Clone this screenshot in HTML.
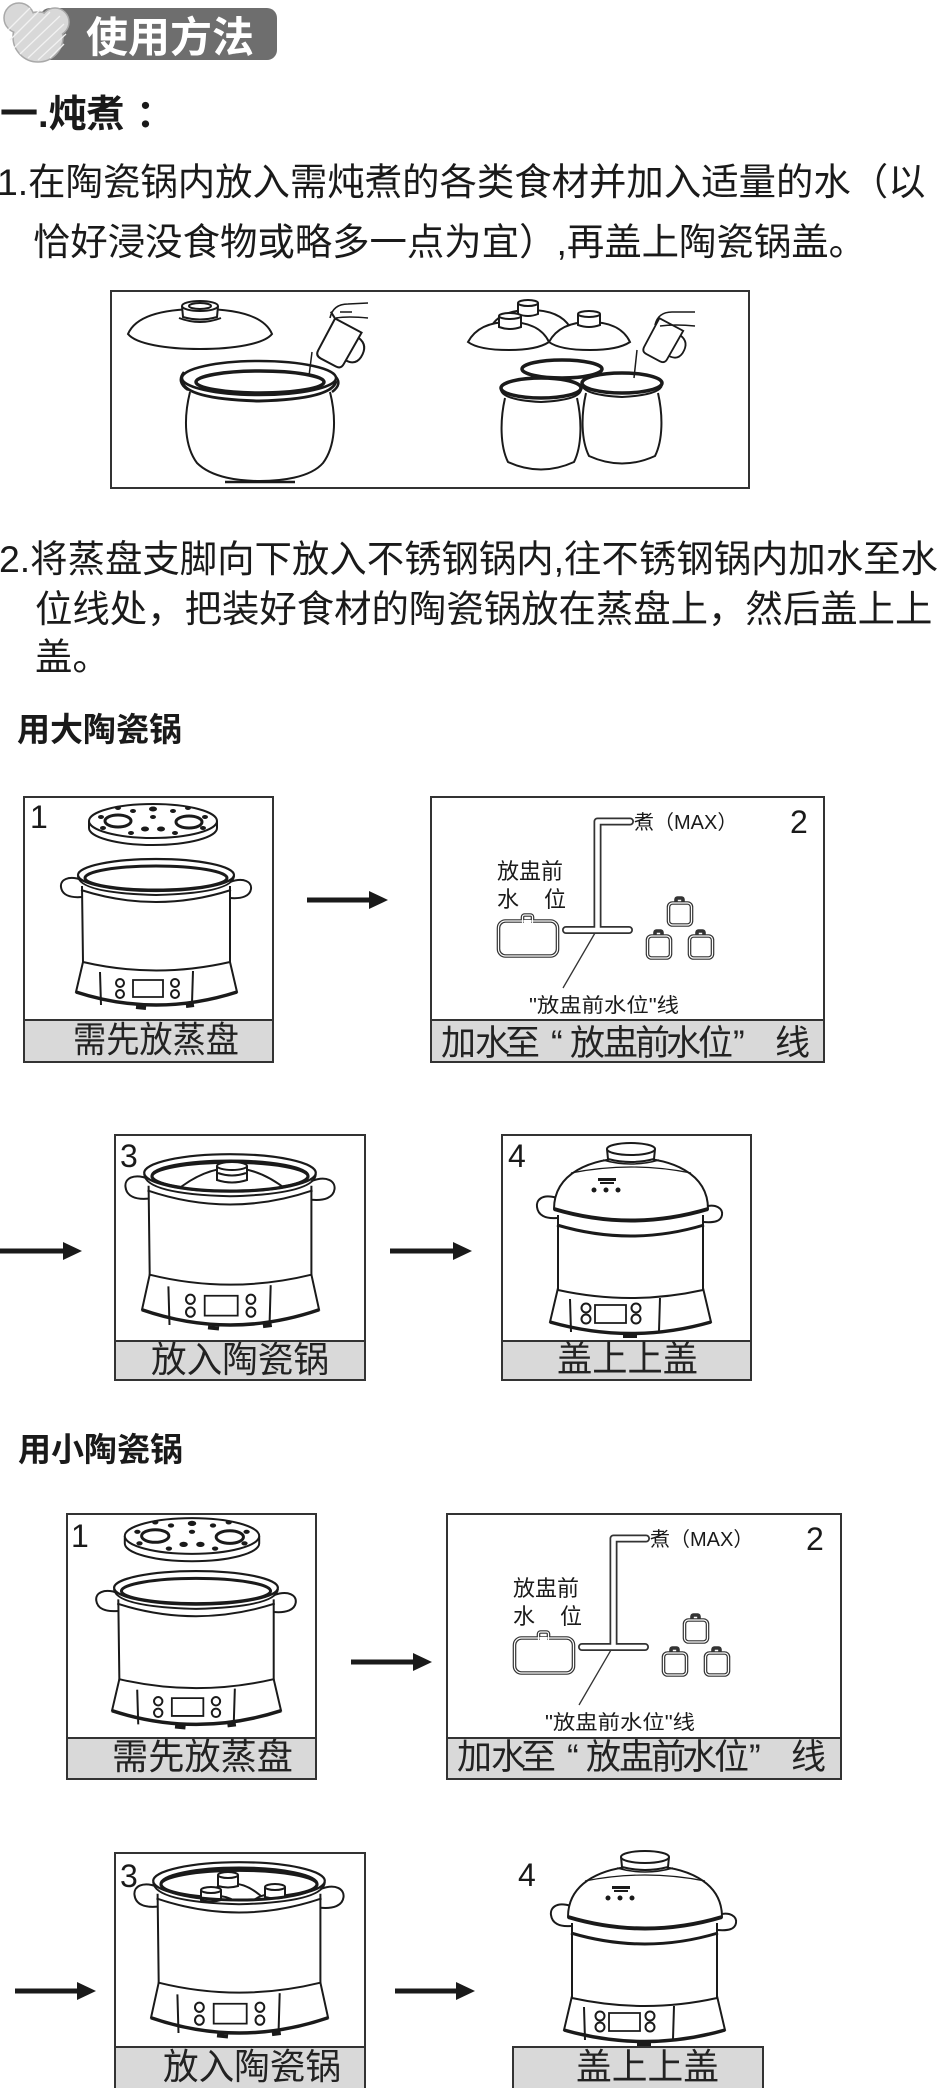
<!DOCTYPE html>
<html><head><meta charset="utf-8">
<style>
html,body{margin:0;padding:0;background:#fff;}
svg{display:block;}
.t{font-family:"Liberation Sans","Noto Sans CJK SC",sans-serif;fill:#1a1a1a;}
.b{font-weight:700;}
.c{font-family:"Liberation Sans","Noto Sans CJK SC",sans-serif;fill:#222;}
.ns *{vector-effect:non-scaling-stroke;}
</style></head>
<body>
<svg width="941" height="2088" viewBox="0 0 941 2088" xmlns="http://www.w3.org/2000/svg">
<defs>
 <g id="openpot" class="ns" fill="none" stroke="#1a1a1a" stroke-width="2">
  <path d="M-74 22 C-88 17 -96 22 -95 29 C-94 37 -86 40 -74 39" fill="#fff"/>
  <path d="M74 24 C88 19 96 24 95 31 C94 38 86 41 74 40" fill="#fff"/>
  <path d="M-73 104 L-80 134 Q0 160 81 134 L74 104 Z" fill="#fff"/>
  <path d="M-80 134 Q0 160 81 134" stroke-width="3.5"/>
  <path d="M-20 149 L-10 150 M30 148 L38 147" stroke-width="4"/>
  <path d="M-74 28 L-73 104 Q0 121 74 104 L74 28" fill="#fff"/>
  <path d="M-56 114 L-55 147 M37 113 L36 145"/>
  <rect x="-23" y="122" width="30" height="17" stroke-width="1.8"/>
  <circle cx="-36" cy="125" r="4"/><circle cx="-36" cy="136" r="4"/>
  <circle cx="19" cy="125" r="4"/><circle cx="19" cy="136" r="4"/>
  <path d="M-75 32 Q0 56 75 32" stroke-width="2"/>
  <ellipse cx="0" cy="17" rx="78" ry="16" fill="#fff" stroke-width="2.2"/>
  <ellipse cx="0" cy="20" rx="71" ry="12" stroke-width="3"/>
  <path d="M-78 18 Q-77 35 0 37 Q77 35 78 18" stroke-width="2"/>
 </g>
 <g id="plate" class="ns" fill="none" stroke="#1a1a1a" stroke-width="2">
  <path d="M-64 0 L-64 7 A64 17 0 0 0 64 7 L64 0" fill="#fff"/>
  <ellipse rx="64" ry="17" fill="#fff"/>
  <ellipse cx="-35" cy="0" rx="13" ry="6" stroke-width="3"/>
  <ellipse cx="36" cy="1" rx="13" ry="6" stroke-width="3"/>
  <g fill="#1a1a1a" stroke="none">
   <ellipse cx="0" cy="-12" rx="4" ry="2.5"/><ellipse cx="0" cy="-4" rx="3" ry="2"/>
   <ellipse cx="-8" cy="8" rx="4" ry="2.5"/><ellipse cx="8" cy="8" rx="4" ry="2.5"/>
   <ellipse cx="-20" cy="-10" rx="3" ry="2"/><ellipse cx="20" cy="-10" rx="3" ry="2"/>
   <ellipse cx="-52" cy="-4" rx="3" ry="2"/><ellipse cx="52" cy="-4" rx="3" ry="2"/>
   <ellipse cx="-50" cy="7" rx="3" ry="2"/><ellipse cx="50" cy="7" rx="3" ry="2"/>
   <ellipse cx="-22" cy="12" rx="3" ry="2"/><ellipse cx="22" cy="12" rx="3" ry="2"/>
   <ellipse cx="-35" cy="-13" rx="3" ry="2"/><ellipse cx="35" cy="-13" rx="3" ry="2"/>
  </g>
 </g>
 <g id="covpot" class="ns" fill="none" stroke="#1a1a1a" stroke-width="2">
  <path d="M-74 55 C-90 50 -95 58 -94 64 C-93 72 -86 76 -74 75" fill="#fff"/>
  <path d="M72 64 C86 60 92 66 91 72 C90 78 84 80 72 79" fill="#fff"/>
  <path d="M-73 145 L-81 179 Q0 202 80 179 L72 145 Z" fill="#fff"/>
  <path d="M-81 179 Q0 202 80 179" stroke-width="3.5"/>
  <path d="M-8 193 L6 193" stroke-width="4"/>
  <path d="M-73 72 L-73 147 Q0 163 72 147 L72 72" fill="#fff"/>
  <path d="M-61 156 L-60 189 M29 155 L28 188"/>
  <rect x="-36" y="162" width="31" height="18" stroke-width="1.8"/>
  <circle cx="-45" cy="165" r="4.5"/><circle cx="-45" cy="176" r="4.5"/>
  <circle cx="5" cy="165" r="4.5"/><circle cx="5" cy="176" r="4.5"/>
  <path d="M-74 82 Q0 104 73 82" stroke-width="3"/>
  <path d="M-77 66 C-77 30 -40 15 0 15 C40 15 77 30 77 66 Q0 88 -77 66 Z" fill="#fff"/>
  <path d="M-77 66 Q0 89 77 66" stroke-width="4"/>
  <path d="M-60 30 Q0 18 60 30" stroke-width="1.2"/>
  <path d="M-24 6 L-23 16 Q0 22 23 16 L24 6" fill="#fff"/>
  <ellipse cx="0" cy="6" rx="24" ry="6" fill="#fff"/>
  <path d="M-28 17 Q0 25 28 17" stroke-width="1.5"/>
  <g fill="#1a1a1a" stroke="none">
   <rect x="-33" y="35" width="18" height="3"/><rect x="-31" y="39" width="14" height="2"/>
   <circle cx="-37" cy="47" r="2.5"/><circle cx="-25" cy="47" r="2.5"/><circle cx="-13" cy="47" r="2.5"/>
  </g>
 </g>
 <clipPath id="clipB3"><ellipse cx="230" cy="1176" rx="78" ry="15"/></clipPath>
 <clipPath id="clipS3"><ellipse cx="239" cy="1884" rx="78" ry="16"/></clipPath>
</defs>

<!-- ===== Header ===== -->
<rect x="40" y="8" width="237" height="52" rx="10" fill="#6e6e6e"/>
<g stroke="#a9a9a9" stroke-width="1.5" fill="#d8d8d8">
 <circle cx="38" cy="37" r="25"/><circle cx="19" cy="18" r="15"/><circle cx="55" cy="22" r="14"/>
</g>
<g fill="#d8d8d8"><circle cx="38" cy="37" r="24"/><circle cx="19" cy="18" r="14"/><circle cx="55" cy="22" r="13"/></g>
<g stroke="#f2f2f2" stroke-width="1.3">
 <path d="M8 30 L30 8 M10 40 L40 10 M14 48 L50 12 M20 54 L60 16 M28 58 L64 24 M38 60 L66 34 M50 58 L64 44"/>
</g>
<text class="t b" x="86" y="52" font-size="42" style="fill:#fff" textLength="168" lengthAdjust="spacingAndGlyphs">使用方法</text>

<!-- ===== Section 1 ===== -->
<text class="t b" x="0" y="127" font-size="38">一.炖煮<tspan x="136">：</tspan></text>
<text class="t" x="-3" y="195" font-size="37.4">1.在陶瓷锅内放入需炖煮的各类食材并加入适量的水（以</text>
<text class="t" x="33" y="255" font-size="37.4">恰好浸没食物或略多一点为宜）,再盖上陶瓷锅盖。</text>

<!-- illustration 1 -->
<rect x="111" y="291" width="638" height="197" fill="#fff" stroke="#333" stroke-width="2"/>
<g fill="none" stroke="#1a1a1a" stroke-width="2">
 <path d="M128 334 C136 315 166 309 200 309 C234 309 264 315 272 334 C264 344 234 349 200 349 C166 349 136 344 128 334 Z" fill="#fff"/>
 <path d="M182 306 L183 317 Q200 322 217 317 L218 306" fill="#fff"/>
 <ellipse cx="200" cy="306" rx="18" ry="5" fill="#fff"/>
 <ellipse cx="200" cy="306" rx="11" ry="3"/>
 <path d="M179 318 Q200 326 221 318"/>
 <path d="M190 392 C183 420 185 447 197 463 C212 478 240 481 260 481 C280 481 310 478 323 463 C335 447 337 420 330 392" fill="#fff"/>
 <path d="M225 482 L295 482" stroke-width="2.5"/>
 <path d="M184 372 Q176 382 188 390 M335 376 Q343 384 332 392" stroke-width="2.5"/>
 <ellipse cx="259" cy="378" rx="77" ry="17" fill="#fff" stroke-width="2.5"/>
 <path d="M182 381 Q185 399 259 401 Q333 399 336 381" stroke-width="3"/>
 <ellipse cx="260" cy="382" rx="64" ry="11" stroke-width="3.5"/>
 <path d="M312 352 L309 376" stroke-width="1.5"/>
 <g transform="translate(338,345) rotate(28)">
  <path d="M-15 -22 L15 -22 L14 14 Q14 20 8 20 L-9 20 Q-15 20 -15 14 Z" fill="#fff"/>
  <path d="M15 -16 Q27 -14 26 0 Q25 10 14 10"/>
  <path d="M-15 -22 L-22 -26"/>
 </g>
 <path d="M330 318 Q333 304 348 304 L368 303 M336 318 Q348 316 368 318 M340 312 L352 312" stroke-width="1.6"/>
 <!-- right group -->
 <path d="M491 327 C498 314 514 310 530 310 C546 310 562 314 570 327" fill="#fff"/>
 <path d="M518 303 L518 314 Q528 318 538 314 L538 303" fill="#fff"/><ellipse cx="528" cy="303" rx="10" ry="3" fill="#fff"/>
 <path d="M468 342 C476 327 492 322 509 322 C526 322 542 327 549 342 C540 348 525 350 509 350 C493 350 476 348 468 342 Z" fill="#fff"/>
 <path d="M549 342 C557 327 573 322 590 322 C607 322 623 327 630 342 C621 348 606 350 590 350 C574 350 557 348 549 342 Z" fill="#fff"/>
 <path d="M499 316 L499 327 Q510 331 521 327 L521 316" fill="#fff"/><ellipse cx="510" cy="316" rx="11" ry="3" fill="#fff"/>
 <path d="M578 314 L578 325 Q589 329 600 325 L600 314" fill="#fff"/><ellipse cx="589" cy="314" rx="11" ry="3" fill="#fff"/>
 <ellipse cx="562" cy="369" rx="40" ry="9" fill="#fff" stroke-width="3.5"/>
 <path d="M505 398 C500 420 500 446 508 462 Q541 477 574 462 C582 446 582 420 577 398" fill="#fff"/>
 <ellipse cx="541" cy="388" rx="40" ry="10" fill="#fff" stroke-width="3.5"/>
 <path d="M501 390 Q503 400 541 402 Q579 400 581 390" stroke-width="2"/>
 <path d="M586 393 C581 415 581 440 589 456 Q622 471 655 456 C663 440 663 415 658 393" fill="#fff"/>
 <ellipse cx="622" cy="383" rx="40" ry="10" fill="#fff" stroke-width="3.5"/>
 <path d="M582 385 Q584 395 622 397 Q660 395 662 385" stroke-width="2"/>
 <path d="M637 350 L634 378" stroke-width="1.5"/>
 <g transform="translate(662,342) rotate(28) scale(0.9)">
  <path d="M-15 -22 L15 -22 L14 14 Q14 20 8 20 L-9 20 Q-15 20 -15 14 Z" fill="#fff"/>
  <path d="M15 -16 Q27 -14 26 0 Q25 10 14 10"/>
 </g>
 <path d="M655 325 Q658 312 672 312 L695 312 M660 326 Q675 324 695 326" stroke-width="1.6"/>
</g>

<!-- ===== Section 2 text ===== -->
<text class="t" x="-1" y="572" font-size="37.4">2.将蒸盘支脚向下放入不锈钢锅内,往不锈钢锅内加水至水</text>
<text class="t" x="35" y="622" font-size="37.4">位线处，把装好食材的陶瓷锅放在蒸盘上，然后盖上上</text>
<text class="t" x="35" y="670" font-size="37.4">盖。</text>

<text class="t b" x="17" y="741" font-size="33">用大陶瓷锅</text>

<!-- ===== Big row 1 ===== -->
<rect x="24" y="797" width="249" height="265" fill="#fff" stroke="#333" stroke-width="2"/>
<use href="#openpot" transform="translate(156,858)"/>
<use href="#plate" transform="translate(153,821)"/>
<rect x="24" y="1020" width="249" height="42" fill="#d9d9d9" stroke="#333" stroke-width="2"/>
<text class="t" x="30" y="828" font-size="32">1</text>
<text class="c" x="73" y="1052" font-size="36" textLength="166" lengthAdjust="spacingAndGlyphs">需先放蒸盘</text>

<g fill="#1a1a1a"><rect x="307" y="897.5" width="64" height="5"/><polygon points="369,891 388,900 369,909"/></g>

<g>
<rect x="431" y="797" width="393" height="265" fill="#fff" stroke="#333" stroke-width="2"/>
<rect x="431" y="1020" width="393" height="42" fill="#d9d9d9" stroke="#333" stroke-width="2"/>
<g fill="none" stroke-linecap="round" stroke-linejoin="round">
 <path d="M630 821.5 L597.5 821.5 L597.5 930 M566 930 L629 930" stroke="#333" stroke-width="8"/>
 <path d="M630 821.5 L597.5 821.5 L597.5 930 M566 930 L629 930" stroke="#fff" stroke-width="4.5"/>
</g>
<line x1="595" y1="933" x2="563" y2="988" stroke="#333" stroke-width="1.3"/>
<g fill="none" stroke="#333" stroke-width="3.6">
 <rect x="522.5" y="915" width="10" height="9" rx="2"/>
 <rect x="498.5" y="921" width="59" height="35" rx="7" fill="#fff"/>
 <rect x="676" y="898" width="7" height="7" rx="1.5"/>
 <rect x="668.5" y="903" width="23" height="22" rx="4" fill="#fff"/>
 <rect x="655" y="931" width="7" height="7" rx="1.5"/>
 <rect x="647.5" y="936" width="23" height="22" rx="4" fill="#fff"/>
 <rect x="697" y="931" width="7" height="7" rx="1.5"/>
 <rect x="689.5" y="936" width="23" height="22" rx="4" fill="#fff"/>
</g>
<g fill="none" stroke="#fff" stroke-width="1.2">
 <rect x="522.5" y="915" width="10" height="9" rx="2"/>
 <rect x="498.5" y="921" width="59" height="35" rx="7"/>
 <rect x="668.5" y="903" width="23" height="22" rx="4"/>
 <rect x="647.5" y="936" width="23" height="22" rx="4"/>
 <rect x="689.5" y="936" width="23" height="22" rx="4"/>
</g>
<rect x="524" y="920" width="7" height="3" fill="#fff"/>
<text class="t" x="634" y="829" font-size="20">煮（MAX）</text>
<text class="t" x="790" y="833" font-size="32">2</text>
<text class="t" x="497" y="879" font-size="22">放盅前</text>
<text class="t" x="497" y="907" font-size="22">水</text>
<text class="t" x="544" y="907" font-size="22">位</text>
<text class="t" x="529" y="1012" font-size="20" textLength="150" lengthAdjust="spacingAndGlyphs">"放盅前水位"线</text>
<text class="c" x="441 475 505 551 570 603 635 666 698 733 775" y="1055" font-size="35">加水至“放盅前水位”线</text>
</g>

<!-- ===== Big row 2 ===== -->
<g fill="#1a1a1a"><rect x="0" y="1248.5" width="64" height="5"/><polygon points="63,1242 82,1251 63,1260"/></g>

<rect x="115" y="1135" width="250" height="245" fill="#fff" stroke="#333" stroke-width="2"/>
<use href="#openpot" transform="translate(230,1153) scale(1.1,1.17)"/>
<g fill="none" stroke="#1a1a1a" stroke-width="2">
 <g clip-path="url(#clipB3)">
  <path d="M170 1196 Q232 1140 294 1196" fill="#fff"/>
 </g>
 <path d="M217 1166 L217 1180 Q232 1185 247 1180 L247 1166" fill="#fff"/>
 <ellipse cx="232" cy="1166" rx="15" ry="4" fill="#fff"/>
 <path d="M218 1173 Q232 1178 246 1173"/>
 <ellipse cx="230" cy="1176" rx="78" ry="15" stroke-width="3"/>
</g>
<rect x="115" y="1341" width="250" height="39" fill="#d9d9d9" stroke="#333" stroke-width="2"/>
<text class="t" x="120" y="1167" font-size="32">3</text>
<text class="c" x="151" y="1372" font-size="36" textLength="178" lengthAdjust="spacingAndGlyphs">放入陶瓷锅</text>

<g fill="#1a1a1a"><rect x="390" y="1248.5" width="64" height="5"/><polygon points="453,1242 472,1251 453,1260"/></g>

<rect x="502" y="1135" width="249" height="245" fill="#fff" stroke="#333" stroke-width="2"/>
<use href="#covpot" transform="translate(631,1143)"/>
<rect x="502" y="1341" width="249" height="39" fill="#d9d9d9" stroke="#333" stroke-width="2"/>
<text class="t" x="508" y="1167" font-size="32">4</text>
<text class="c" x="557" y="1371" font-size="36" textLength="141" lengthAdjust="spacingAndGlyphs">盖上上盖</text>

<text class="t b" x="18" y="1461" font-size="33">用小陶瓷锅</text>

<!-- ===== Small row 1 ===== -->
<rect x="67" y="1514" width="249" height="265" fill="#fff" stroke="#333" stroke-width="2"/>
<use href="#openpot" transform="translate(196,1570) scale(1.05)"/>
<use href="#plate" transform="translate(192,1536) scale(1.05)"/>
<rect x="67" y="1738" width="249" height="41" fill="#d9d9d9" stroke="#333" stroke-width="2"/>
<text class="t" x="71" y="1547" font-size="32">1</text>
<text class="c" x="112" y="1769" font-size="36" textLength="181" lengthAdjust="spacingAndGlyphs">需先放蒸盘</text>

<g fill="#1a1a1a"><rect x="351" y="1659.5" width="63" height="5"/><polygon points="413,1653 432,1662 413,1671"/></g>

<g transform="translate(16,717)">
<rect x="431" y="797" width="394" height="265" fill="#fff" stroke="#333" stroke-width="2"/>
<rect x="431" y="1021" width="394" height="41" fill="#d9d9d9" stroke="#333" stroke-width="2"/>
<g fill="none" stroke-linecap="round" stroke-linejoin="round">
 <path d="M630 821.5 L597.5 821.5 L597.5 930 M566 930 L629 930" stroke="#333" stroke-width="8"/>
 <path d="M630 821.5 L597.5 821.5 L597.5 930 M566 930 L629 930" stroke="#fff" stroke-width="4.5"/>
</g>
<line x1="595" y1="933" x2="563" y2="988" stroke="#333" stroke-width="1.3"/>
<g fill="none" stroke="#333" stroke-width="3.6">
 <rect x="522.5" y="915" width="10" height="9" rx="2"/>
 <rect x="498.5" y="921" width="59" height="35" rx="7" fill="#fff"/>
 <rect x="676" y="898" width="7" height="7" rx="1.5"/>
 <rect x="668.5" y="903" width="23" height="22" rx="4" fill="#fff"/>
 <rect x="655" y="931" width="7" height="7" rx="1.5"/>
 <rect x="647.5" y="936" width="23" height="22" rx="4" fill="#fff"/>
 <rect x="697" y="931" width="7" height="7" rx="1.5"/>
 <rect x="689.5" y="936" width="23" height="22" rx="4" fill="#fff"/>
</g>
<g fill="none" stroke="#fff" stroke-width="1.2">
 <rect x="522.5" y="915" width="10" height="9" rx="2"/>
 <rect x="498.5" y="921" width="59" height="35" rx="7"/>
 <rect x="668.5" y="903" width="23" height="22" rx="4"/>
 <rect x="647.5" y="936" width="23" height="22" rx="4"/>
 <rect x="689.5" y="936" width="23" height="22" rx="4"/>
</g>
<rect x="524" y="920" width="7" height="3" fill="#fff"/>
<text class="t" x="634" y="829" font-size="20">煮（MAX）</text>
<text class="t" x="790" y="833" font-size="32">2</text>
<text class="t" x="497" y="879" font-size="22">放盅前</text>
<text class="t" x="497" y="907" font-size="22">水</text>
<text class="t" x="544" y="907" font-size="22">位</text>
<text class="t" x="529" y="1012" font-size="20" textLength="150" lengthAdjust="spacingAndGlyphs">"放盅前水位"线</text>
<text class="c" x="441 475 505 551 570 603 635 666 698 733 775" y="1052" font-size="35">加水至“放盅前水位”线</text>
</g>

<!-- ===== Small row 2 ===== -->
<g fill="#1a1a1a"><rect x="15" y="1988.5" width="63" height="5"/><polygon points="77,1982 96,1991 77,2000"/></g>

<rect x="115" y="1853" width="250" height="240" fill="#fff" stroke="#333" stroke-width="2"/>
<use href="#openpot" transform="translate(239,1861) scale(1.1,1.17)"/>
<g fill="none" stroke="#1a1a1a" stroke-width="2">
 <g clip-path="url(#clipS3)">
  <path d="M195 1905 Q232 1862 270 1905" fill="#fff"/>
  <path d="M188 1912 Q218 1880 248 1912" fill="#fff"/>
  <path d="M243 1912 Q267 1878 292 1912" fill="#fff"/>
 </g>
 <path d="M218 1875 L218 1886 Q228 1889 238 1886 L238 1875" fill="#fff"/><ellipse cx="228" cy="1875" rx="10" ry="3" fill="#fff"/>
 <path d="M201 1890 L201 1900 Q211 1903 221 1900 L221 1890" fill="#fff"/><ellipse cx="211" cy="1890" rx="10" ry="3" fill="#fff"/>
 <path d="M265 1887 L265 1897 Q275 1900 285 1897 L285 1887" fill="#fff"/><ellipse cx="275" cy="1887" rx="10" ry="3" fill="#fff"/>
 <ellipse cx="239" cy="1884" rx="78" ry="16" stroke-width="3"/>
</g>
<rect x="115" y="2047" width="250" height="46" fill="#d9d9d9" stroke="#333" stroke-width="2"/>
<text class="t" x="120" y="1887" font-size="32">3</text>
<text class="c" x="163" y="2079" font-size="36" textLength="178" lengthAdjust="spacingAndGlyphs">放入陶瓷锅</text>

<g fill="#1a1a1a"><rect x="395" y="1988.5" width="62" height="5"/><polygon points="456,1982 475,1991 456,2000"/></g>

<use href="#covpot" transform="translate(645,1851)"/>
<rect x="513" y="2047" width="250" height="46" fill="#d9d9d9" stroke="#333" stroke-width="2"/>
<text class="t" x="518" y="1886" font-size="32">4</text>
<text class="c" x="576" y="2079" font-size="36" textLength="143" lengthAdjust="spacingAndGlyphs">盖上上盖</text>
</svg>
</body></html>
